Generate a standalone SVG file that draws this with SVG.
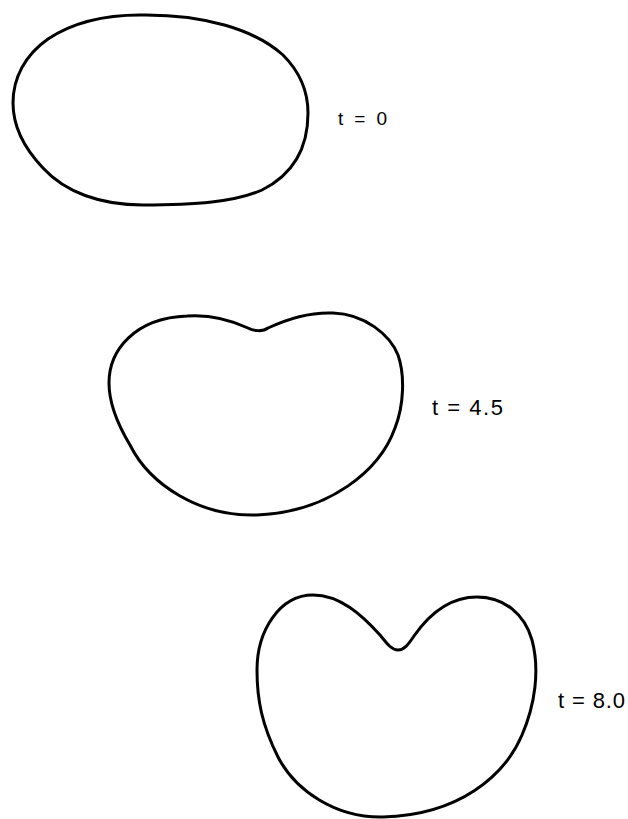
<svg xmlns="http://www.w3.org/2000/svg" width="628" height="819" viewBox="0 0 628 819">
<style>
.shape{fill:none;stroke:#000;stroke-width:3;stroke-linejoin:round}
.lbl{font-family:"Liberation Sans",Arial,sans-serif;fill:#000}
</style>
<rect width="628" height="819" fill="#fff"/>
<g id="shape-t0">
<path class="shape" d="M 140,15 C 205,14 255,30 283,55 C 300,72 308,92 308,113 C 308,150 292,175 262,190 C 235,202 195,205 143,205 C 100,205 65,192 43,168 C 24,148 13,126 13,103 C 13,78 25,55 48,39 C 72,23 105,15 140,15 Z"/>
<text class="lbl" x="338" y="125" font-size="19" textLength="49" lengthAdjust="spacing">t = 0</text>
</g>
<g id="shape-t45">
<path class="shape" d="M 187,316 C 215,314 235,322 248,328 C 253,331 263,332 268,328 C 285,320 310,312 333,313 C 365,314 390,335 398,355 C 405,375 404,405 395,428 C 380,470 330,512 257,515 C 200,517 150,485 130,445 C 115,420 109,400 109,383 C 109,350 135,318 187,316 Z"/>
<text class="lbl" x="432" y="415" font-size="22" textLength="71" lengthAdjust="spacing">t = 4.5</text>
</g>
<g id="shape-t80">
<path class="shape" d="M 313,595 C 340,595 362,615 380,635 C 388,645 392,650 398,650 C 404,650 408,645 414,636 C 430,613 450,597 477,597 C 505,597 525,615 532,640 C 540,670 535,705 522,735 C 505,775 460,815 383,817 C 335,818 295,790 278,757 C 262,725 257,700 257,670 C 257,630 280,595 313,595 Z"/>
<text class="lbl" x="558" y="708" font-size="22" textLength="67" lengthAdjust="spacing">t = 8.0</text>
</g>
<g id="connectors"/>
</svg>
